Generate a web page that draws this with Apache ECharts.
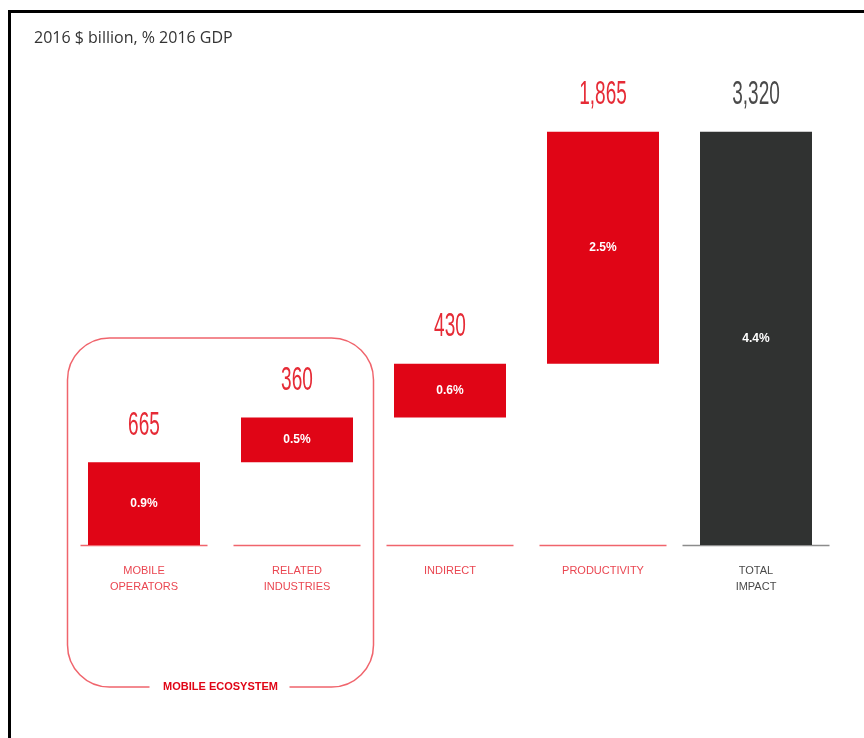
<!DOCTYPE html>
<html><head><meta charset="utf-8">
<script src="https://cdn.jsdelivr.net/npm/echarts@6/dist/echarts.min.js"></script>
<style>html,body{margin:0;padding:0;background:#fff}#c{width:864px;height:738px}</style>
</head><body><div id="c"></div>
<script>
// ---- data ----
const categories = ['MOBILE\nOPERATORS', 'RELATED\nINDUSTRIES', 'INDIRECT', 'PRODUCTIVITY', 'TOTAL\nIMPACT'];
const values = [665, 360, 430, 1865, 3320];
const gdpShare = ['0.9%', '0.5%', '0.6%', '2.5%', '4.4%'];
const valueLabels = ['665', '360', '430', '1,865', '3,320'];
const isTotal = [false, false, false, false, true];
const title = '2016 $ billion, % 2016 GDP';
const groupLabel = 'MOBILE ECOSYSTEM';

// ---- styles ----
const RED = '#e00516', DARK = '#303231';
const RED_TXT = '#e62b36', GREY_TXT = '#4a4a4a', CAT_RED = '#ea4651';
const RED_LINE = '#f0646c', GREY_LINE = '#8c8c8c';
const SANS = '"Liberation Sans",Arial,sans-serif';

// waterfall bases from the values
const bases = [];
let run = 0;
values.forEach((v, i) => {
  if (isTotal[i]) { bases.push(0); } else { bases.push(run); run += v; }
});
const tops = values.map((v, i) => bases[i] + v);

const chart = echarts.init(document.getElementById('c'), null, {renderer: 'canvas'});

chart.setOption({
  animation: false,
  backgroundColor: '#fff',
  grid: {left: 67.5, right: 31.5, top: 47, bottom: 193},
  xAxis: {
    type: 'category',
    data: categories,
    axisLine: {show: false},
    axisTick: {show: false},
    axisLabel: {
      margin: 18,
      interval: 0,
      formatter: function (val, idx) {
        const key = isTotal[idx] ? 'g' : 'r';
        return val.split('\n').map(s => '{' + key + '|' + s + '}').join('\n');
      },
      rich: {
        r: {color: CAT_RED, fontSize: 11, lineHeight: 16, fontFamily: SANS},
        g: {color: GREY_TXT, fontSize: 11, lineHeight: 16, fontFamily: SANS}
      }
    }
  },
  yAxis: {type: 'value', min: 0, max: 4000, show: false, splitLine: {show: false}},
  series: [
    {
      type: 'bar', stack: 'w', barWidth: 112, silent: true,
      itemStyle: {color: 'transparent'},
      data: bases
    },
    {
      type: 'bar', stack: 'w', barWidth: 112,
      data: values.map((v, i) => ({value: v, itemStyle: {color: isTotal[i] ? DARK : RED}})),
      label: {
        show: true, position: 'inside', color: '#fff', fontSize: 12, fontWeight: 'bold',
        fontFamily: SANS,
        formatter: p => gdpShare[p.dataIndex]
      }
    },
    {
      type: 'custom',
      data: values.map((v, i) => [i, 0]),
      renderItem: function (params, api) {
        const i = api.value(0);
        const c = api.coord([i, 0]);
        const band = api.size([1, 0])[0];
        const half = band * (isTotal[i] ? 73.5 : 63.5) / 153;
        return {
          type: 'line',
          shape: {x1: c[0] - half, y1: c[1] + 0.5, x2: c[0] + half, y2: c[1] + 0.5},
          style: {stroke: isTotal[i] ? GREY_LINE : RED_LINE, lineWidth: 1.5}
        };
      }
    }
  ]
});

// annotation box around the mobile ecosystem categories
const c0 = chart.convertToPixel({xAxisIndex: 0}, 0);
const c1 = chart.convertToPixel({xAxisIndex: 0}, 1);
const band = c1 - c0;
const boxL = c0 - band / 2, boxR = c1 + band / 2;
const boxT = 338, boxB = 687;
const midX = (boxL + boxR) / 2;

// condensed value labels above each bar, positioned through the grid's scales
const numLabels = tops.map((t, i) => {
  const p = chart.convertToPixel({gridIndex: 0}, [i, t]);
  return {
    type: 'text', x: p[0], y: p[1] - 20, scaleX: 0.56,
    style: {
      text: valueLabels[i], fontSize: 34, fontFamily: SANS,
      fill: isTotal[i] ? GREY_TXT : RED_TXT, align: 'center', verticalAlign: 'bottom'
    }
  };
});

chart.setOption({
  graphic: [
    {type: 'rect', shape: {x: 9.5, y: 11.5, width: 900, height: 800}, style: {fill: 'none', stroke: '#000', lineWidth: 3}, z: 100},
    {type: 'text', x: 34, y: 38, style: {text: title, fontSize: 16, fill: '#333', fontFamily: '"Open Sans","Noto Sans",sans-serif', verticalAlign: 'middle'}},
    {type: 'rect', shape: {x: boxL, y: boxT, width: boxR - boxL, height: boxB - boxT, r: 42}, style: {fill: 'none', stroke: RED_LINE, lineWidth: 1.5}},
    {type: 'rect', shape: {x: midX - 71, y: boxB - 5, width: 140, height: 10}, style: {fill: '#fff'}},
    {type: 'text', x: midX, y: boxB, style: {text: groupLabel, fontSize: 11, fontWeight: 'bold', fill: RED, align: 'center', verticalAlign: 'middle', fontFamily: SANS}}
  ].concat(numLabels)
});
</script>
</body></html>
